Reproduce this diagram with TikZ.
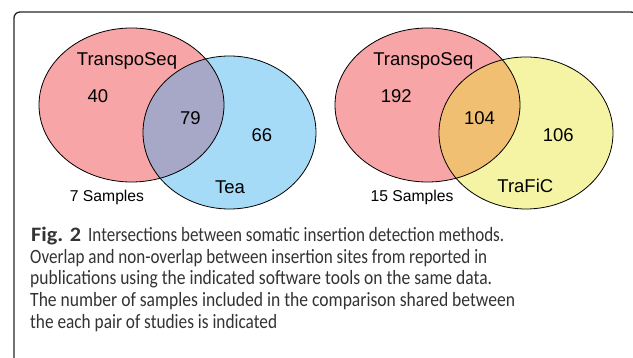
\documentclass[tikz,border=0pt]{standalone}
\usepackage{graphicx}
\usepackage{fontspec}
\setmainfont{Liberation Sans}
\newfontfamily\capfont{Carlito}
\definecolor{vred}{HTML}{F8A5A7}
\definecolor{vblue}{HTML}{A6DBF8}
\definecolor{vpurple}{HTML}{A7A7C8}
\definecolor{vorange}{HTML}{F1BF72}
\definecolor{vyellow}{HTML}{F4F4A4}
\definecolor{captext}{HTML}{333333}
\newsavebox\fitbox
\newlength\fitlen
\newcommand\fitline[2]{\sbox\fitbox{#2}\setlength\fitlen{\wd\fitbox}\pgfmathsetmacro\fitfac{#1/\the\fitlen}\scalebox{\fitfac}[1]{\usebox\fitbox}}
\tikzset{
  lbl/.style={anchor=base, inner sep=0pt, font=\fontsize{18.5}{20}\selectfont},
  smp/.style={anchor=base, inner sep=0pt, font=\fontsize{15.7}{17}\selectfont},
  capline/.style={anchor=base west, inner sep=0pt, text=captext, font=\capfont\fontsize{20.3}{21}\selectfont},
  outline/.style={draw=black, line width=0.8pt},
}
\begin{document}
\begin{tikzpicture}[x=1pt,y=-1pt]
\useasboundingbox (0,0) rectangle (633,358);
\begin{scope}
\clip (0,0) rectangle (633,358);
\draw[line width=1.3pt, draw=black!85, rounded corners=6pt] (14,12) rectangle (637,366);
\end{scope}
% left Venn
\fill[vred] (131.5,105) ellipse [x radius=92.5, y radius=77];
\fill[vblue] (229.5,132.5) ellipse [x radius=86.5, y radius=76.5];
\begin{scope}
\clip (131.5,105) ellipse [x radius=92.5, y radius=77];
\fill[vpurple] (229.5,132.5) ellipse [x radius=86.5, y radius=76.5];
\end{scope}
\draw[outline] (131.5,105) ellipse [x radius=92.5, y radius=77];
\draw[outline] (229.5,132.5) ellipse [x radius=86.5, y radius=76.5];
% right Venn
\fill[vred] (427.5,105) ellipse [x radius=92.5, y radius=77];
\fill[vyellow] (526,133) ellipse [x radius=87, y radius=76];
\begin{scope}
\clip (427.5,105) ellipse [x radius=92.5, y radius=77];
\fill[vorange] (526,133) ellipse [x radius=87, y radius=76];
\end{scope}
\draw[outline] (427.5,105) ellipse [x radius=92.5, y radius=77];
\draw[outline] (526,133) ellipse [x radius=87, y radius=76];
% labels left
\node[lbl] (ts1) at (127,65.5) {TranspoSeq};
\node[lbl] (n40) at (98,102.7) {40};
\node[lbl] (n79) at (190.3,125) {79};
\node[lbl] (n66) at (262,141.7) {66};
\node[lbl] (tea) at (230,193.3) {Tea};
\node[smp] (s7) at (107,201.7) {7 Samples};
% labels right
\node[lbl] (ts2) at (423.3,65.7) {TranspoSeq};
\node[lbl] (n192) at (396.3,102.7) {192};
\node[lbl] (n104) at (479.5,125) {104};
\node[lbl] (n106) at (558.3,141.7) {106};
\node[lbl] (trafic) at (525.3,192.3) {TraFiC};
\node[smp] (s15) at (412,201.7) {15 Samples};
% caption
\node[capline] (cap1) at (31,241.7) {\fitline{50pt}{\fontsize{20.5}{21}\selectfont\bfseries Fig. 2}\hspace{7pt}\fitline{416pt}{Intersections between somatic insertion detection methods.}};
\node[capline] (cap2) at (30,263.3) {\fitline{457pt}{Overlap and non-overlap between insertion sites from reported in}};
\node[capline] (cap3) at (30,285) {\fitline{462pt}{publications using the indicated software tools on the same data.}};
\node[capline] (cap4) at (30,306.7) {\fitline{485pt}{The number of samples included in the comparison shared between}};
\node[capline] (cap5) at (30,328.4) {\fitline{247pt}{the each pair of studies is indicated}};
\end{tikzpicture}
\end{document}
